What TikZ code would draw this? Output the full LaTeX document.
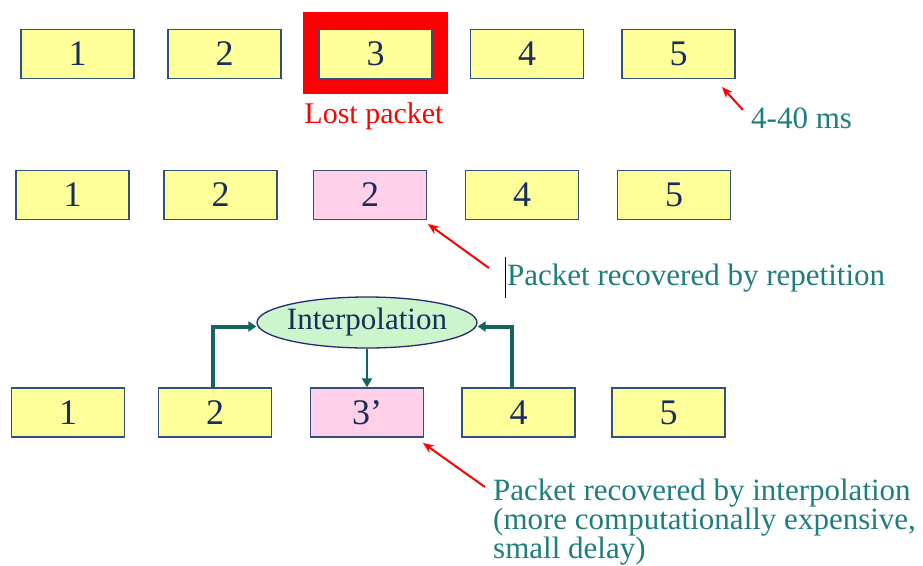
\documentclass[tikz,border=0pt]{standalone}
\usepackage{fontspec}
\setmainfont{Liberation Serif}
\usetikzlibrary{arrows.meta,shapes.geometric}
\definecolor{boxyellow}{RGB}{255,255,153}
\definecolor{boxpink}{RGB}{255,208,232}
\definecolor{boxedge}{RGB}{50,80,120}
\definecolor{digitcol}{RGB}{25,45,90}
\definecolor{tealtext}{RGB}{30,125,125}
\definecolor{tealarrow}{RGB}{20,100,95}
\definecolor{ellfill}{RGB}{204,245,204}
\definecolor{elledge}{RGB}{40,40,120}
\tikzset{
  pkt/.style={draw=boxedge, line width=1.3pt, fill=boxyellow, minimum width=113pt, minimum height=49pt, inner sep=0pt, text=digitcol, font=\fontsize{36}{38}\selectfont},
  pinkpkt/.style={pkt, fill=boxpink},
  lbl/.style={text=tealtext, font=\fontsize{31}{29}\selectfont, inner sep=0pt},
  redarrow/.style={draw=red, line width=2pt, -{Stealth[length=11pt,width=9pt]}},
  tealthick/.style={draw=tealarrow, line width=4pt, -{Triangle[length=8pt,width=10pt]}},
  tealthin/.style={draw=tealarrow, line width=2.8pt, -{Triangle[length=9pt,width=10pt]}}
}
\begin{document}
\begin{tikzpicture}[x=1pt,y=-1pt]
\useasboundingbox (0,0) rectangle (923,565);
% Row 1
\fill[red] (303,12) rectangle (448,94);
\node[pkt] (b11) at (77.5,54) {1};
\node[pkt] (b12) at (224.5,54) {2};
\node[pkt] (b13) at (375.5,54) {3};
\node[pkt] (b14) at (527,54) {4};
\node[pkt] (b15) at (678.5,54) {5};
\node[text=red, font=\fontsize{30}{32}\selectfont, inner sep=0pt, anchor=base] (lost) at (374,123) {Lost packet};
\node[lbl, anchor=base west] (ms) at (751,128) {4-40 ms};
\coordinate (msarr) at (743,110);
\draw[redarrow] (msarr) -- (722,87);
% Row 2
\node[pkt] (b21) at (72.5,195) {1};
\node[pkt] (b22) at (220.5,195) {2};
\node[pinkpkt] (b23) at (370,195) {2};
\node[pkt] (b24) at (522,195) {4};
\node[pkt] (b25) at (674,195) {5};
\draw[black, line width=1pt] (505.5,257) -- (505.5,298);
\node[lbl, anchor=base west] (rep) at (507,285) {Packet recovered by repetition};
\coordinate (reptail) at (489,268);
\coordinate (rephead) at (428,224);
\draw[redarrow] (reptail) -- (rephead);
% Row 3
\node[pkt] (b31) at (68,412.5) {1};
\node[pkt] (b32) at (215,412.5) {2};
\node[pinkpkt] (b33) at (367,412.5) {3’};
\node[pkt] (b34) at (518.5,412.5) {4};
\node[pkt] (b35) at (668.5,412.5) {5};
\node[ellipse, draw=elledge, line width=1.3pt, fill=ellfill, minimum width=220pt, minimum height=51pt, inner xsep=-12pt, inner ysep=0pt, text=digitcol, font=\fontsize{31}{33}\selectfont] (interp) at (367,322.5) {\raisebox{-2pt}{Interpolation}};
\draw[tealthick] ([xshift=-2pt]b32.north) |- ([yshift=-4pt]interp.west);
\draw[tealthick] ([xshift=-6.5pt]b34.north) |- ([yshift=-4pt]interp.east);
\draw[tealthin] (interp.south) -- (b33.north);
\node[lbl, anchor=base west, align=left] (inter) at (493,558) {Packet recovered by interpolation\\(more computationally expensive,\\small delay)};
\coordinate (inttail) at (485,487);
\coordinate (inthead) at (423,443);
\draw[redarrow] (inttail) -- (inthead);
\end{tikzpicture}
\end{document}
